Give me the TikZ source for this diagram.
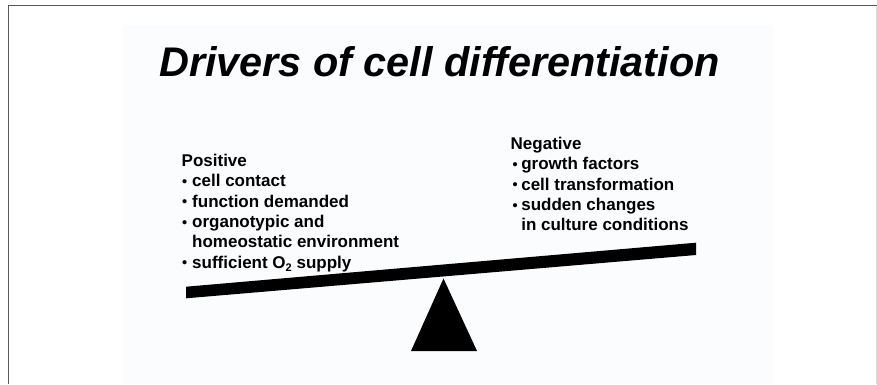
\documentclass[tikz,border=0pt]{standalone}
\usepackage{fontspec}
\setmainfont[Ligatures=NoCommon]{Liberation Sans}
\definecolor{framegray}{HTML}{5A5A5A}
\definecolor{panelbg}{HTML}{FBFCFE}
\newcommand{\smbul}{\raisebox{0.3pt}{\fontsize{14.5}{14.5}\selectfont •}}
\newcommand{\lbul}{\makebox[10pt][l]{\smbul}}
\newcommand{\rbul}{\makebox[8.8pt][l]{\smbul}}
\begin{document}
\begin{tikzpicture}[x=1pt,y=-1pt,
  item/.style={anchor=base west, inner sep=0pt, font=\fontsize{17}{20}\selectfont\bfseries},
  ttl/.style={anchor=base west, inner sep=0pt, font=\fontsize{41.4}{44}\selectfont\bfseries\itshape}]
\useasboundingbox (0,0) rectangle (877,384);
\fill[white] (0,0) rectangle (877,384);
\fill[panelbg] (123,25) rectangle (773,384);
\draw[framegray, line width=1.6pt] (8.5,384) -- (8.5,5.5) -- (877,5.5);
\draw[black!15, line width=1pt] (876.5,5.5) -- (876.5,384);
% title
\node[ttl] (title) at (159,76) {Drivers of cell differentiation};
% positive list
\node[item] (pos) at (181.5,166) {Positive};
\node[item] (p1) at (182,186.5) {\lbul cell contact};
\node[item] (p2) at (182,207) {\lbul function demanded};
\node[item] (p3) at (182,227.3) {\lbul organotypic and};
\node[item] (p4) at (182,247.6) {\hspace{10pt}homeostatic environment};
\node[item] (p5) at (182,268) {\lbul sufficient O\raisebox{-3pt}{\fontsize{11}{11}\selectfont 2} supply};
% negative list
\node[item] (neg) at (510.5,149.3) {Negative};
\node[item] (n1) at (512.3,169.7) {\rbul growth factors};
\node[item] (n2) at (512.3,190) {\rbul cell transformation};
\node[item] (n3) at (512.3,210.3) {\rbul sudden changes};
\node[item] (n4) at (512.3,230.7) {\hspace{8.8pt}in culture conditions};
% beam and fulcrum
\fill[black] (186,286.7) -- (696,242.7) -- (696,255) -- (186,298.3) -- cycle;
\fill[black] (443.5,278.5) -- (477,351) -- (411,351) -- cycle;
\end{tikzpicture}
\end{document}
